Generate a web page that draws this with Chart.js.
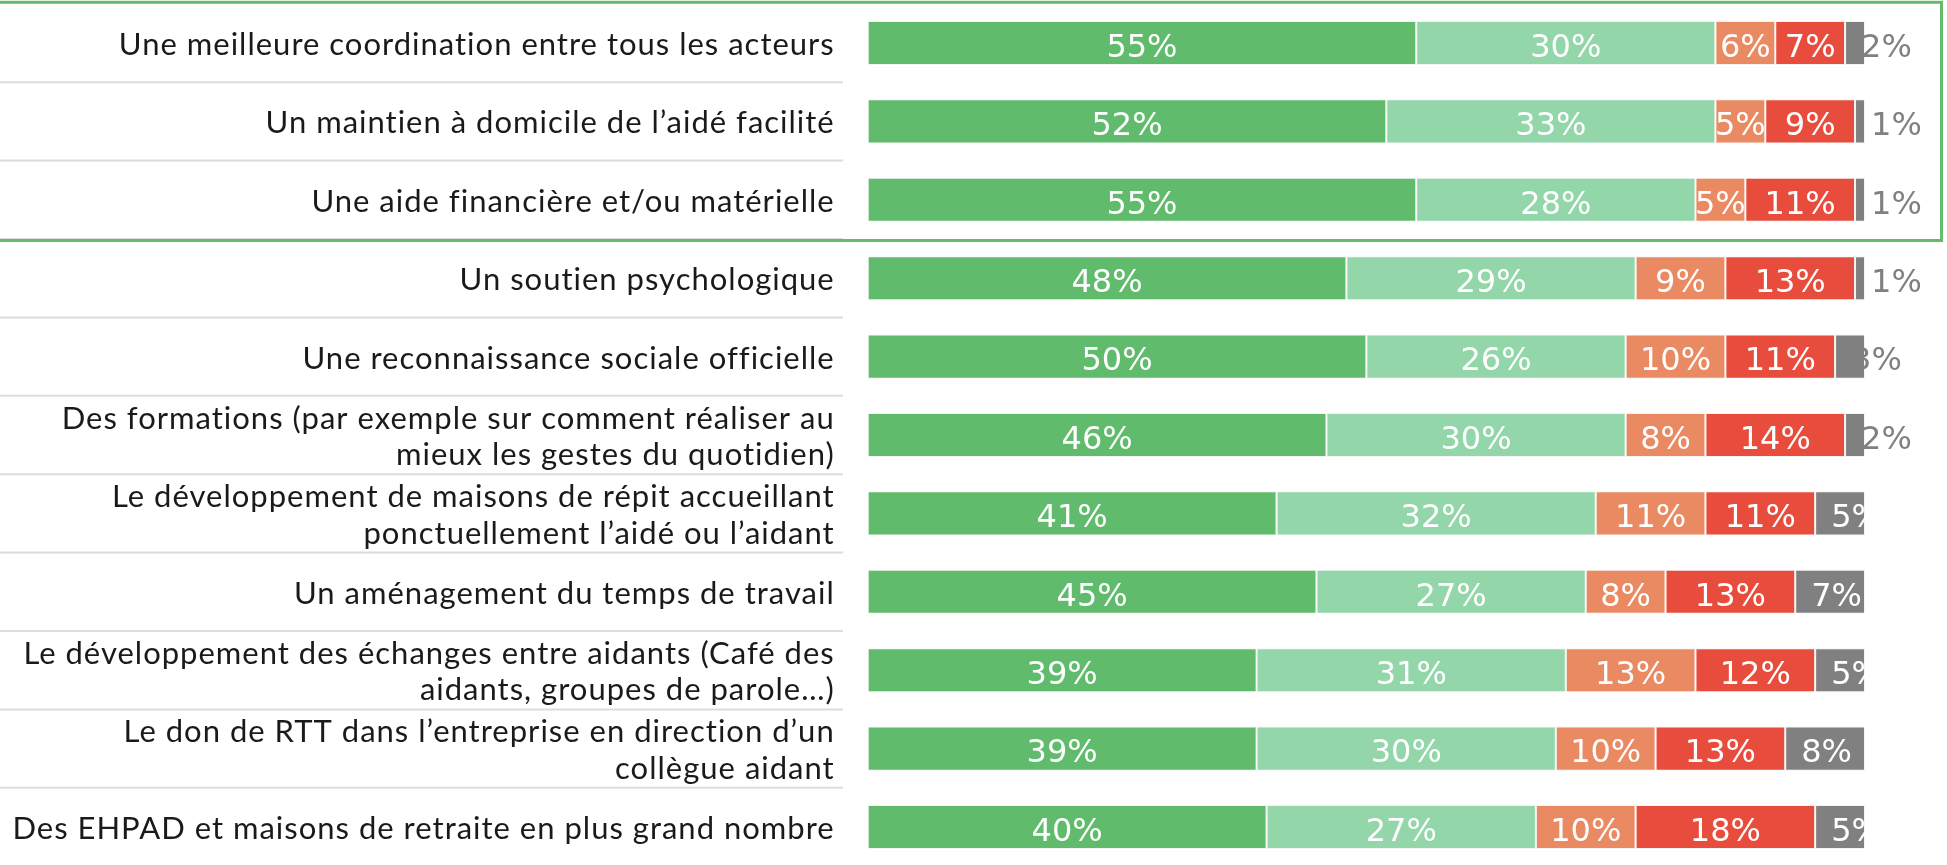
<!DOCTYPE html>
<html lang="fr">
<head>
<meta charset="utf-8">
<script src="https://cdn.jsdelivr.net/npm/chart.js@4.4.1/dist/chart.umd.min.js"></script>
<style>
  html, body { margin: 0; padding: 0; background: #fff; overflow: hidden; }
  #wrap { position: relative; width: 1947px; height: 867px; }
</style>
</head>
<body>
<div id="wrap"><canvas id="c"></canvas></div>
<script>
// Propositions (one row each), top to bottom
const categories = [
  "Une meilleure coordination entre tous les acteurs",
  "Un maintien à domicile de l’aidé facilité",
  "Une aide financière et/ou matérielle",
  "Un soutien psychologique",
  "Une reconnaissance sociale officielle",
  ["Des formations (par exemple sur comment réaliser au", "mieux les gestes du quotidien)"],
  ["Le développement de maisons de répit accueillant", "ponctuellement l’aidé ou l’aidant"],
  "Un aménagement du temps de travail",
  ["Le développement des échanges entre aidants (Café des", "aidants, groupes de parole…)"],
  ["Le don de RTT dans l’entreprise en direction d’un", "collègue aidant"],
  "Des EHPAD et maisons de retraite en plus grand nombre"
];

// Share of answers, in %
const toutAFaitUtile   = [55, 52, 55, 48, 50, 46, 41, 45, 39, 39, 40];
const plutotUtile      = [30, 33, 28, 29, 26, 30, 32, 27, 31, 30, 27];
const plutotPasUtile   = [ 6,  5,  5,  9, 10,  8, 11,  8, 13, 10, 10];
const pasDuToutUtile   = [ 7,  9, 11, 13, 11, 14, 11, 13, 12, 13, 18];
const neSaitPas        = [ 2,  1,  1,  1,  3,  2,  5,  7,  5,  8,  5];

const seriesNames = ["Tout à fait utile", "Plutôt utile", "Plutôt pas utile", "Pas du tout utile", "Ne sait pas"];
const seriesValues = [toutAFaitUtile, plutotUtile, plutotPasUtile, pasDuToutUtile, neSaitPas];
const seriesColors = ["#61bb6d", "#92d6aa", "#e98a62", "#e74c3c", "#808080"];

// Rows surrounded by the green frame
const framedRows = [0, 1, 2];

// Slightly wider tracking for the row labels
const labelTracking = {
  id: 'labelTracking',
  beforeDraw(chart) { chart.ctx.letterSpacing = '1px'; }
};

// Row separators in the label column
const rowSeparators = {
  id: 'rowSeparators',
  beforeDatasetsDraw(chart) {
    const { ctx } = chart;
    const y = chart.scales.y;
    ctx.save();
    ctx.strokeStyle = '#dcdcdc';
    ctx.lineWidth = 2;
    for (let i = 0; i < categories.length - 1; i++) {
      const yy = (y.getPixelForValue(i) + y.getPixelForValue(i + 1)) / 2;
      ctx.beginPath();
      ctx.moveTo(0, yy);
      ctx.lineTo(843, yy);
      ctx.stroke();
    }
    ctx.restore();
  }
};

// Green frame around the first rows
const rowFrame = {
  id: 'rowFrame',
  afterDraw(chart) {
    const { ctx } = chart;
    const y = chart.scales.y;
    const first = Math.min(...framedRows), last = Math.max(...framedRows);
    const half = (y.getPixelForValue(1) - y.getPixelForValue(0)) / 2;
    const top = y.getPixelForValue(first) - half - 1.5;
    const bottom = y.getPixelForValue(last) + half + 1.5;
    ctx.save();
    ctx.strokeStyle = '#66bb6a';
    ctx.lineWidth = 3;
    ctx.strokeRect(-2, top, chart.width - 5.5 + 2, bottom - top);
    ctx.restore();
  }
};

// Percent labels on the segments
const valueLabels = {
  id: 'valueLabels',
  afterDatasetsDraw(chart) {
    const { ctx, chartArea } = chart;
    ctx.save();
    ctx.letterSpacing = '0px';
    ctx.font = '32px "DejaVu Sans"';
    ctx.textBaseline = 'alphabetic';
    chart.data.datasets.forEach((ds, di) => {
      const meta = chart.getDatasetMeta(di);
      meta.data.forEach((bar, i) => {
        const p = bar.getProps(['x', 'y', 'base'], true);
        const v = ds.data[i];
        const txt = v + '%';
        const ty = p.y + 13.7;
        const start = Math.min(p.x, p.base);
        if (di === seriesValues.length - 1) {
          ctx.textAlign = 'left';
          if (v > 3) {
            ctx.save();
            ctx.beginPath();
            ctx.rect(chartArea.left, chartArea.top, chartArea.right - chartArea.left, chartArea.bottom - chartArea.top);
            ctx.clip();
            ctx.fillStyle = '#ffffff';
            ctx.fillText(txt, start + 16, ty);
            ctx.restore();
          } else {
            ctx.fillStyle = '#808080';
            ctx.fillText(txt, start + 16, ty);
          }
        } else {
          ctx.textAlign = 'center';
          ctx.fillStyle = '#ffffff';
          ctx.fillText(txt, (p.x + p.base) / 2, ty);
        }
      });
    });
    ctx.restore();
  }
};

new Chart(document.getElementById('c'), {
  type: 'bar',
  data: {
    labels: categories,
    datasets: seriesValues.map((vals, k) => ({
      label: seriesNames[k],
      data: vals,
      backgroundColor: seriesColors[k],
      borderColor: 'rgba(235,235,235,0.55)',
      borderWidth: 1,
      borderSkipped: false,
      categoryPercentage: 1,
      barPercentage: 0.562
    }))
  },
  options: {
    indexAxis: 'y',
    responsive: true,
    maintainAspectRatio: false,
    animation: false,
    layout: { padding: { left: 0, right: 82, top: 3.8, bottom: 0.8 } },
    plugins: {
      legend: { display: false },
      tooltip: { enabled: false }
    },
    scales: {
      x: {
        stacked: true,
        min: 0,
        max: 100,
        display: false
      },
      y: {
        stacked: true,
        grid: { display: false },
        border: { display: false },
        ticks: {
          padding: 25,
          labelOffset: 2,
          color: '#1a1a1a',
          font: { family: 'Lato', size: 31, lineHeight: 1.18 }
        },
        afterFit(scale) {
          scale.width = 867.7;
          scale.paddingTop = 0;
          scale.paddingBottom = 0;
        }
      }
    }
  },
  plugins: [labelTracking, rowSeparators, valueLabels, rowFrame]
});
</script>
</body>
</html>
